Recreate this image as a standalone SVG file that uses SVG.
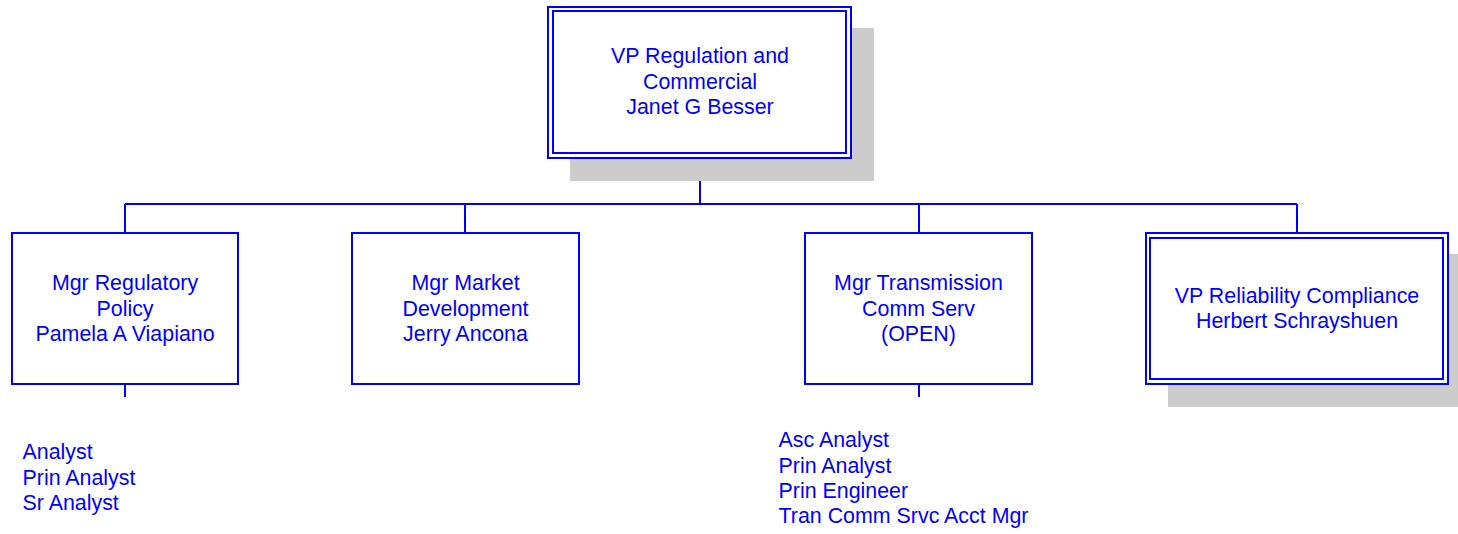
<svg xmlns="http://www.w3.org/2000/svg" width="1458" height="534" viewBox="0 0 1458 534">
<style>
.box{fill:#fff;stroke:#0000ff;stroke-width:2}
.shadow{fill:#cccccc}
.t{font-family:"Liberation Sans",Arial,sans-serif;font-size:21.4px;fill:#0000ff}
.c{text-anchor:middle}
.ln{stroke:#0000ff;stroke-width:2;fill:none}
</style>
<rect width="1458" height="534" fill="#fff"/>
<g id="connectors">
<path class="ln" d="M700,158V204M125,204H1297M125,204V233M465,204V233M919,204V233M1297,204V233M125,384V397M919,384V397"/>
</g>
<g id="vp-regulation">
<rect class="shadow" x="570" y="28" width="304" height="153"/>
<rect class="box" x="548" y="7" width="303" height="151"/>
<rect class="box" x="553" y="11" width="293" height="142"/>
<text class="t c" x="700" y="62.5">VP Regulation and</text>
<text class="t c" x="700" y="88.5">Commercial</text>
<text class="t c" x="700" y="113.5">Janet G Besser</text>
</g>
<g id="mgr-regulatory">
<rect class="box" x="12" y="233" width="226" height="151"/>
<text class="t c" x="125" y="289.5">Mgr Regulatory</text>
<text class="t c" x="125" y="315.5">Policy</text>
<text class="t c" x="125" y="340.5">Pamela A Viapiano</text>
</g>
<g id="mgr-market">
<rect class="box" x="352" y="233" width="227" height="151"/>
<text class="t c" x="465.5" y="289.5">Mgr Market</text>
<text class="t c" x="465.5" y="315.5">Development</text>
<text class="t c" x="465.5" y="340.5">Jerry Ancona</text>
</g>
<g id="mgr-transmission">
<rect class="box" x="805" y="233" width="227" height="151"/>
<text class="t c" x="918.5" y="289.5">Mgr Transmission</text>
<text class="t c" x="918.5" y="315.5">Comm Serv</text>
<text class="t c" x="918.5" y="340.5">(OPEN)</text>
</g>
<g id="vp-reliability">
<rect class="shadow" x="1168" y="254" width="290" height="153"/>
<rect class="box" x="1146" y="233" width="302" height="151"/>
<rect class="box" x="1150" y="238" width="293" height="141"/>
<text class="t c" x="1297" y="302.5">VP Reliability Compliance</text>
<text class="t c" x="1297" y="327.5">Herbert Schrayshuen</text>
</g>
<g id="regulatory-staff">
<text class="t" x="22.5" y="458.5">Analyst</text>
<text class="t" x="22.5" y="484.5">Prin Analyst</text>
<text class="t" x="22.5" y="509.5">Sr Analyst</text>
</g>
<g id="transmission-staff">
<text class="t" x="778.5" y="446.5">Asc Analyst</text>
<text class="t" x="778.5" y="472.5">Prin Analyst</text>
<text class="t" x="778.5" y="497.5">Prin Engineer</text>
<text class="t" x="778.5" y="522.5">Tran Comm Srvc Acct Mgr</text>
</g>
</svg>
